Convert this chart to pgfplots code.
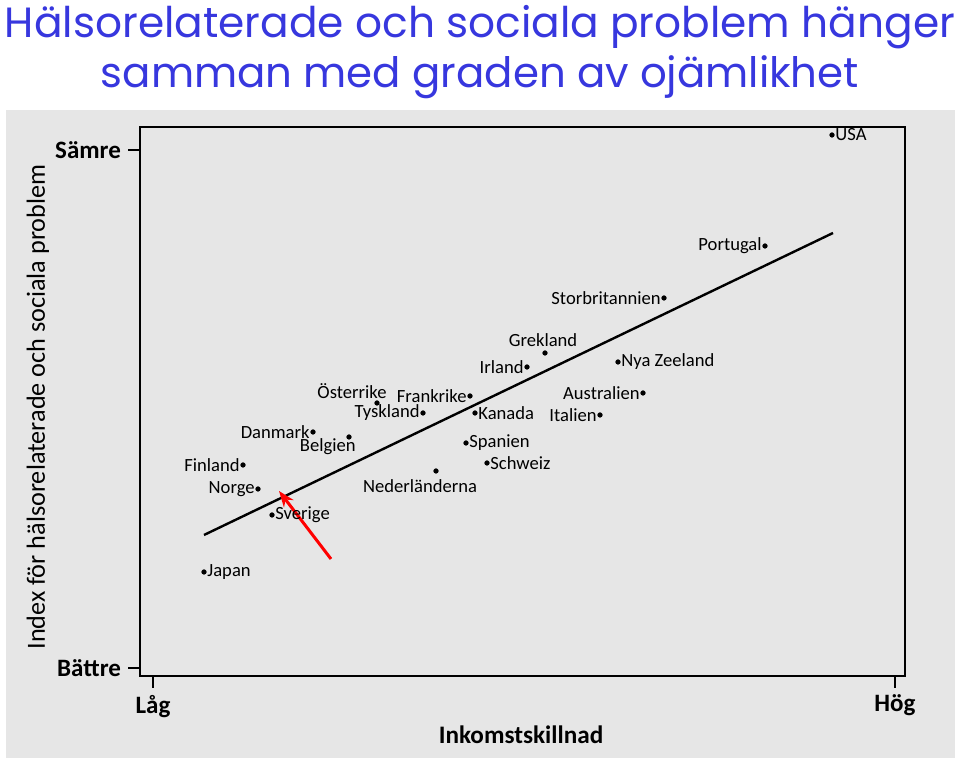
\documentclass[border=0pt]{standalone}
\usepackage{fontspec}
\setmainfont{Carlito}
\newfontfamily\titlefont{Poppins}
\usepackage{pgfplots}
\pgfplotsset{compat=1.18}
\usetikzlibrary{arrows.meta}
\definecolor{titleblue}{RGB}{55,55,222}
\definecolor{scan}{RGB}{230,230,230}
\begin{document}
\begin{tikzpicture}[x=0.5pt,y=0.5pt]
\useasboundingbox (0,0) rectangle (960,763);
\fill[scan] (6,5) rectangle (955,653);
\node[titleblue,inner sep=0pt] at (480,736) {\resizebox{475pt}{!}{\titlefont Hälsorelaterade och sociala problem hänger}};
\node[titleblue,inner sep=0pt] at (480,686) {\resizebox{379pt}{!}{\titlefont samman med graden av ojämlikhet}};
\node[rotate=90,font=\fontsize{13.1}{15}\selectfont] at (38,356) {Index för hälsorelaterade och sociala problem};
\node[font=\fontsize{12.6}{15}\selectfont\bfseries] at (521,28) {Inkomstskillnad};
\begin{axis}[at={(70pt,43.5pt)}, anchor=south west, scale only axis,
  width=382.5pt, height=274.5pt,
  xmin=140, xmax=905, ymin=87, ymax=636,
  axis line style={black, line width=0.9pt},
  xtick={153,895}, xticklabels={Låg,Hög},
  ytick={95,613}, yticklabels={Bättre,Sämre},
  tick pos=left, tick align=outside, major tick length=6pt,
  tick style={black, line width=0.6pt},
  ticklabel style={font=\fontsize{12.5}{14}\selectfont\bfseries},
  clip=false]
% regression line
\addplot[black, line width=1.2pt] coordinates {(204,228) (833,530)};
% countries
\addplot[only marks, mark=*, mark size=1.1pt, black] coordinates {
 (832,628) (765,517) (664,465) (545,410) (527,396) (618,401) (643,370)
 (600,348) (377,360) (423,350) (470,367) (475,350) (313,331) (349,326)
 (466,320) (487,300) (436,292) (243,298) (258,274) (272,248) (204,191)};
\draw[red, line width=1.5pt, -{Stealth[length=8pt,width=6pt]}] (axis cs:331,204) -- (axis cs:279,272);
\begin{scope}[every node/.style={font=\fontsize{9.3}{11}\selectfont, inner sep=1.5pt}]
\node[anchor=west] at (axis cs:832,628) {USA};
\node[anchor=east] at (axis cs:765,517) {Portugal};
\node[anchor=east] at (axis cs:664,465) {Storbritannien};
\node at (axis cs:543,423) {Grekland};
\node[anchor=east] at (axis cs:527,396) {Irland};
\node[anchor=west] at (axis cs:618,401) {Nya Zeeland};
\node[anchor=east] at (axis cs:643,370) {Australien};
\node[anchor=east] at (axis cs:600,348) {Italien};
\node at (axis cs:352,372) {Österrike};
\node[anchor=east] at (axis cs:423,350) {Tyskland};
\node[anchor=east] at (axis cs:470,367) {Frankrike};
\node[anchor=west] at (axis cs:475,350) {Kanada};
\node[anchor=east] at (axis cs:313,331) {Danmark};
\node[anchor=east] at (axis cs:359,316) {Belgien};
\node[anchor=west] at (axis cs:466,320) {Spanien};
\node[anchor=west] at (axis cs:487,300) {Schweiz};
\node at (axis cs:420,277) {Nederländerna};
\node[anchor=east] at (axis cs:243,298) {Finland};
\node[anchor=east] at (axis cs:258,274) {Norge};
\node[anchor=west] at (axis cs:272,248) {Sverige};
\node[anchor=west] at (axis cs:204,191) {Japan};
\end{scope}
\end{axis}
\end{tikzpicture}
\end{document}
